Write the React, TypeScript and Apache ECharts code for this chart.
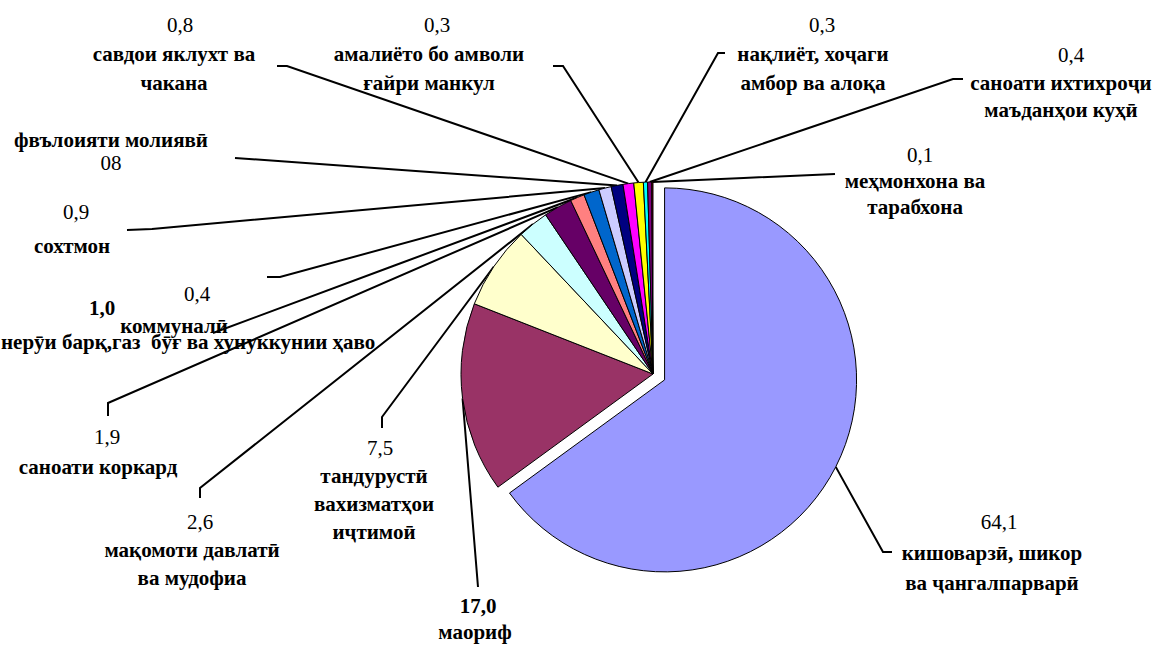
import React, { useEffect, useRef } from "react";
import * as echarts from "echarts";

// ---- data ----
const sectorNames = [
  "кишоварзӣ, шикор\nва ҷангалпарварӣ",
  "маориф",
  "тандурустӣ\nвахизматҳои\nиҷтимоӣ",
  "мақомоти давлатӣ\nва мудофиа",
  "саноати коркард",
  "нерӯи барқ,газ  бӯғ ва хунуккунии ҳаво",
  "коммуналӣ",
  "сохтмон",
  "фвълоияти молиявӣ",
  "савдои яклухт ва\nчакана",
  "амалиёто бо амволи\nғайри манкул",
  "нақлиёт, хоҷаги\nамбор ва алоқа",
  "саноати ихтихроҷи\nмаъданҳои куҳӣ",
  "меҳмонхона ва\nтарабхона",
];
// numbers printed on the labels
const printedValues = ["64,1", "17,0", "7,5", "2,6", "1,9", "1,0", "0,4", "0,9", "08", "0,8", "0,3", "0,3", "0,4", "0,1"];
// slice sizes (%) as drawn in the picture
const sliceShares = [65.0, 16.0, 7.0, 2.6, 2.4, 1.2, 1.3, 1.05, 1.0, 0.9, 0.8, 0.35, 0.35, 0.1];
const sliceColors = ["#9999FF", "#993366", "#FFFFCC", "#CCFFFF", "#660066", "#FF8080", "#0066CC", "#CCCCFF", "#000080", "#FF00FF", "#FFFF00", "#00FFFF", "#800080", "#800000"];

// ---- layout ----
const PIE_CX = 653;
const PIE_CY = 374;
const PIE_R = 192;
const EXPLODE = 13;
const FONT = "Liberation Serif";
const FS = 21;

type Place = {
  x: number; vx: number; y: number; lh: number; nameAlign?: "center" | "left";
  nameFirst?: boolean; boldValue?: boolean; line: number[][];
};
const placements: Place[] = [
  { x: 992, vx: 999, y: 522, lh: 30.5, line: [[883, 552], [892, 552]] },
  { x: 475, vx: 478, y: 606, lh: 26, boldValue: true, line: [[478, 587]] },
  { x: 374, vx: 380, y: 448, lh: 28, line: [[382, 417], [382, 428]] },
  { x: 192, vx: 200, y: 522, lh: 28, line: [[200, 488], [200, 498]] },
  { x: 98, vx: 107, y: 437, lh: 30, line: [[108, 403], [108, 416]] },
  { x: 1, vx: 102, y: 308, lh: 34, nameAlign: "left", boldValue: true, line: [[213, 333]] },
  { x: 174, vx: 197, y: 294, lh: 32, line: [[280, 277], [267, 277]] },
  { x: 72, vx: 76, y: 212, lh: 34, line: [[152, 229], [127, 230]] },
  { x: 111, vx: 111, y: 140, lh: 23, nameFirst: true, line: [[235, 158]] },
  { x: 174, vx: 180, y: 25, lh: 29, line: [[287, 66], [277, 66]] },
  { x: 429, vx: 437, y: 25, lh: 29, line: [[563, 66], [553, 66]] },
  { x: 813, vx: 822, y: 25, lh: 29, line: [[718, 53], [725, 53]] },
  { x: 1061, vx: 1071, y: 55, lh: 27.5, line: [[953, 79], [963, 79]] },
  { x: 915, vx: 920, y: 155, lh: 26, line: [[835, 174]] },
];

const nameLinesOf = sectorNames.map((n) => n.split("\n"));
const maxNameLines = Math.max(...nameLinesOf.map((l) => l.length));
const valueY = (i: number) => {
  const pl = placements[i];
  return pl.nameFirst ? pl.y + nameLinesOf[i].length * pl.lh : pl.y;
};
const nameY = (i: number, k: number) => {
  const pl = placements[i];
  return pl.y + (pl.nameFirst ? k : k + 1) * pl.lh;
};

const total = sliceShares.reduce((a, b) => a + b, 0);
const midAngle0 = (sliceShares[0] / total) * Math.PI; // half of slice 0 sweep, radians from top clockwise
const EXP_DX = EXPLODE * Math.sin(midAngle0);
const EXP_DY = -EXPLODE * Math.cos(midAngle0);

const transparentItem = { color: "transparent", borderWidth: 0 };
const baseSeries = { type: "pie", radius: PIE_R, startAngle: 90, clockwise: true };
const labelFont = { show: true, position: "outside", color: "#000", fontFamily: FONT, fontSize: FS };

// visible slices
const mainSeries = {
  ...baseSeries,
  name: "slices",
  center: [PIE_CX, PIE_CY],
  itemStyle: { borderColor: "#000", borderWidth: 1 },
  label: { show: false },
  labelLine: { show: false },
  data: sectorNames.map((name, i) => ({
    name,
    value: sliceShares[i],
    itemStyle: i === 0 ? transparentItem : { color: sliceColors[i] },
  })),
};
const explodedSeries = {
  ...baseSeries,
  name: "exploded",
  center: [PIE_CX + EXP_DX, PIE_CY + EXP_DY],
  itemStyle: { borderColor: "#000", borderWidth: 1 },
  label: { show: false },
  labelLine: { show: false },
  data: sectorNames.map((name, i) => ({
    name,
    value: sliceShares[i],
    itemStyle: i === 0 ? { color: sliceColors[0] } : transparentItem,
  })),
};

// values (with leader lines)
const valueSeries = {
  ...baseSeries,
  name: "values",
  center: [PIE_CX, PIE_CY],
  itemStyle: transparentItem,
  label: { ...labelFont, fontWeight: "normal", formatter: (p: any) => printedValues[p.dataIndex] },
  labelLine: { show: true, length: 10, length2: 10, lineStyle: { color: "#000", width: 2 } },
  labelLayout: (p: any) => {
    const i = p.dataIndex;
    const pl = placements[i];
    const res: any = { x: pl.vx, y: valueY(i), align: "center", verticalAlign: "middle" };
    if (p.labelLinePoints && p.labelLinePoints.length) {
      let s = p.labelLinePoints[0];
      if (i === 0) s = [s[0] + EXP_DX, s[1] + EXP_DY];
      if (pl.line.length === 1) {
        const e = pl.line[0];
        res.labelLinePoints = [s, [(s[0] + e[0]) / 2, (s[1] + e[1]) / 2], e];
      } else {
        res.labelLinePoints = [s, ...pl.line];
      }
    }
    return res;
  },
  data: sectorNames.map((name, i) => ({
    name,
    value: sliceShares[i],
    ...(placements[i].boldValue ? { label: { fontWeight: "bold" } } : {}),
  })),
};

// one transparent series per line of category name
const nameSeries = Array.from({ length: maxNameLines }, (_, k) => ({
  ...baseSeries,
  name: "names" + k,
  center: [PIE_CX, PIE_CY],
  itemStyle: transparentItem,
  label: { ...labelFont, fontWeight: "bold", formatter: (p: any) => nameLinesOf[p.dataIndex][k] || "" },
  labelLine: { show: false },
  labelLayout: (p: any) => {
    const i = p.dataIndex;
    if (!nameLinesOf[i][k]) return {};
    const pl = placements[i];
    return { x: pl.x, y: nameY(i, k), align: pl.nameAlign || "center", verticalAlign: "middle" };
  },
  data: sectorNames.map((name, i) => ({ name, value: sliceShares[i] })),
}));

const option = {
  animation: false,
  backgroundColor: "#ffffff",
  series: [mainSeries, explodedSeries, valueSeries, ...nameSeries],
};

export default function App() {
  const ref = useRef<HTMLDivElement>(null);
  useEffect(() => {
    const chart = echarts.init(ref.current!, null, { renderer: "svg" });
    chart.setOption(option as any);
    return () => chart.dispose();
  }, []);
  return (
    <div
      ref={ref}
      style={{ position: "absolute", left: 0, top: 0, width: 1155, height: 645, background: "#fff" }}
    />
  );
}
